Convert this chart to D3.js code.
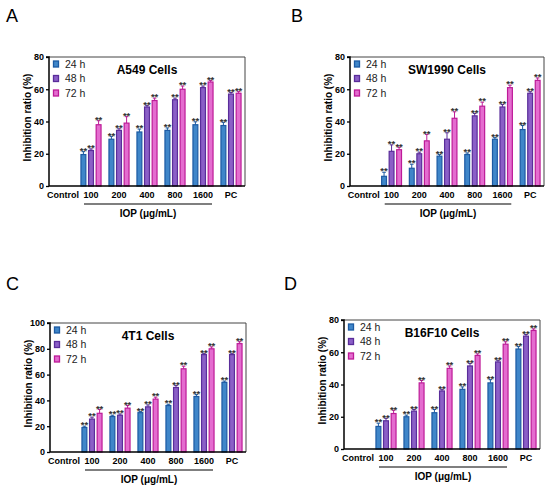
<!DOCTYPE html>
<html>
<head>
<meta charset="utf-8">
<script src="https://cdn.jsdelivr.net/npm/d3@7"></script>
<style>
  body { margin: 0; background: #fff; }
  svg text { font-family: "Liberation Sans", Arial, sans-serif; }
</style>
</head>
<body>
<div id="chart"></div>
<script>
// categories on the x axis and the three time points
const categories = ["Control", "100", "200", "400", "800", "1600", "PC"];
const series = ["24 h", "48 h", "72 h"];

// values per group (Control is empty), order: 100, 200, 400, 800, 1600, PC
const a549_24 = [19.5, 29, 33.5, 34.5, 38, 37.5];
const a549_48 = [22, 34.5, 49, 53.5, 61, 57];
const a549_72 = [38, 39, 53, 60, 64.5, 57.5];
const a549_err24 = [1.8, 1.8, 1.8, 1.5, 1.8, 2];
const a549_err48 = [1, 1, 1, 1, 1, 1];
const a549_err72 = [2.5, 4, 1.5, 2, 1, 1];

const sw1990_24 = [6, 11, 18.5, 19.5, 29, 35];
const sw1990_48 = [21.5, 20, 29, 43.5, 49, 57.5];
const sw1990_72 = [22.5, 28, 42, 49.5, 61, 65.5];
const sw1990_err24 = [2.5, 2.5, 1, 1, 1, 2.5];
const sw1990_err48 = [4, 1, 4, 1.5, 1.5, 1];
const sw1990_err72 = [1.5, 4, 4, 2.5, 1.5, 1.5];

const t41_24 = [19, 27.5, 30.5, 36, 43, 54];
const t41_48 = [25.5, 28.5, 35, 50, 75.5, 75.5];
const t41_72 = [30, 34, 41, 64.5, 80, 84];
const t41_err24 = [1, 1, 1, 1, 1.5, 1];
const t41_err48 = [1.5, 1, 1.5, 1.5, 1, 1];
const t41_err72 = [3, 2, 1.5, 2, 1.5, 1.5];

const b16_24 = [14, 20, 22.5, 37, 41, 62];
const b16_48 = [17.5, 23.5, 36, 51.5, 54, 70];
const b16_72 = [22, 41, 50, 58, 65, 73.5];
const b16_err24 = [2, 1, 2, 1.5, 2, 1.5];
const b16_err48 = [1.5, 1, 1, 1.5, 1, 1];
const b16_err72 = [2, 1.5, 1.5, 1, 1.5, 1];

const strokeCols = ["#1c5aa3", "#5a2d9a", "#bd1b98"];
const fillCols = ["#3f86c9", "#8b5fc7", "#e46ccf"];

const panels = [
  { letter: "A", title: "A549 Cells", vals: [a549_24, a549_48, a549_72], errs: [a549_err24, a549_err48, a549_err72],
    yMax: 80, x0: 49, x1: 245, y0: 57, y1: 186, lx: 6, ly: 22 },
  { letter: "B", title: "SW1990 Cells", vals: [sw1990_24, sw1990_48, sw1990_72], errs: [sw1990_err24, sw1990_err48, sw1990_err72],
    yMax: 80, x0: 350, x1: 544, y0: 57, y1: 186, lx: 291, ly: 22 },
  { letter: "C", title: "4T1 Cells", vals: [t41_24, t41_48, t41_72], errs: [t41_err24, t41_err48, t41_err72],
    yMax: 100, x0: 50, x1: 246, y0: 323, y1: 452, lx: 6, ly: 290 },
  { letter: "D", title: "B16F10 Cells", vals: [b16_24, b16_48, b16_72], errs: [b16_err24, b16_err48, b16_err72],
    yMax: 80, x0: 344, x1: 540, y0: 320, y1: 449, lx: 284, ly: 290 }
];

const svg = d3.select("#chart").append("svg")
  .attr("width", 550)
  .attr("height", 489);

panels.forEach((p) => {
  const g = svg.append("g");

  // panel letter
  g.append("text")
    .attr("x", p.lx).attr("y", p.ly)
    .attr("font-size", 18)
    .text(p.letter);

  const xScale = d3.scaleBand().domain(categories).range([p.x0, p.x1]).padding(0);
  const bw = xScale.bandwidth();
  const xSub = d3.scaleBand().domain(series).range([bw * 0.12, bw * 0.88]).paddingInner(0.2);
  const yScale = d3.scaleLinear().domain([0, p.yMax]).range([p.y1, p.y0]);

  // frame (top and right)
  g.append("path")
    .attr("d", `M${p.x0},${p.y0}H${p.x1}V${p.y1}`)
    .attr("fill", "none").attr("stroke", "#444").attr("stroke-width", 1);

  // bars, error bars and stars
  series.forEach((s, si) => {
    const rows = categories.slice(1).map((c, i) => ({ c: c, v: p.vals[si][i], e: p.errs[si][i] }));
    const cx = (d) => xScale(d.c) + xSub(s) + xSub.bandwidth() / 2;
    const bg = g.append("g");
    bg.selectAll("line.err").data(rows).enter().append("line")
      .attr("x1", cx).attr("x2", cx)
      .attr("y1", (d) => yScale(d.v))
      .attr("y2", (d) => yScale(d.v + d.e))
      .attr("stroke", strokeCols[si]).attr("stroke-width", 1);
    bg.selectAll("line.cap").data(rows).enter().append("line")
      .attr("x1", (d) => cx(d) - 1.8)
      .attr("x2", (d) => cx(d) + 1.8)
      .attr("y1", (d) => yScale(d.v + d.e))
      .attr("y2", (d) => yScale(d.v + d.e))
      .attr("stroke", strokeCols[si]).attr("stroke-width", 1);
    bg.selectAll("rect").data(rows).enter().append("rect")
      .attr("x", (d) => xScale(d.c) + xSub(s) + 0.6)
      .attr("y", (d) => yScale(d.v))
      .attr("width", xSub.bandwidth() - 1.2)
      .attr("height", (d) => yScale(0) - yScale(d.v))
      .attr("fill", fillCols[si])
      .attr("stroke", strokeCols[si]).attr("stroke-width", 1.2);
    bg.selectAll("text").data(rows).enter().append("text")
      .attr("x", cx)
      .attr("y", (d) => yScale(d.v + d.e) + 2.2)
      .attr("text-anchor", "middle")
      .attr("font-size", 9.5).attr("font-weight", "bold").attr("fill", "#333")
      .text("**");
  });

  // y axis
  const yAxis = d3.axisLeft(yScale).tickValues(d3.range(0, p.yMax + 1, 20)).tickSize(3).tickPadding(2);
  const ya = g.append("g").attr("transform", `translate(${p.x0},0)`).call(yAxis);
  ya.select(".domain").attr("stroke-width", 1.5).attr("d", `M-3,${p.y0}H0V${p.y1}`);
  ya.selectAll(".tick line").attr("stroke-width", 1.3);
  ya.selectAll("text").attr("font-size", 9).attr("font-weight", "bold").attr("fill", "#000")
    .style("font-family", "'Liberation Sans', Arial, sans-serif");

  // x axis (labels only, no ticks)
  const xAxis = d3.axisBottom(xScale).tickSize(0).tickPadding(6);
  const xa = g.append("g").attr("transform", `translate(0,${p.y1})`).call(xAxis);
  xa.select(".domain").attr("stroke-width", 1.5).attr("d", `M${p.x0},0H${p.x1}`);
  xa.selectAll("text").attr("font-size", 9).attr("font-weight", "bold").attr("fill", "#000")
    .style("font-family", "'Liberation Sans', Arial, sans-serif");

  // IOP underline and label
  const ux0 = xScale("100") + 7, ux1 = xScale("1600") + bw - 5;
  g.append("line")
    .attr("x1", ux0).attr("x2", ux1)
    .attr("y1", p.y1 + 18).attr("y2", p.y1 + 18)
    .attr("stroke", "#000").attr("stroke-width", 1.2);
  g.append("text")
    .attr("x", (ux0 + ux1) / 2).attr("y", p.y1 + 31)
    .attr("text-anchor", "middle")
    .attr("font-size", 10).attr("font-weight", "bold")
    .text("IOP (μg/mL)");

  // y title
  g.append("text")
    .attr("transform", `translate(${p.x0 - 18},${(p.y0 + p.y1) / 2 - 4}) rotate(-90)`)
    .attr("text-anchor", "middle")
    .attr("font-size", 10).attr("font-weight", "bold")
    .text("Inhibition ratio (%)");

  // chart title
  g.append("text")
    .attr("x", (p.x0 + p.x1) / 2).attr("y", p.y0 + 17)
    .attr("text-anchor", "middle")
    .attr("font-size", 12).attr("font-weight", "bold")
    .text(p.title);

  // legend
  series.forEach((s, si) => {
    const ly = p.y0 + 7 + si * 14.5;
    g.append("rect")
      .attr("x", p.x0 + 4.5).attr("y", ly - 3)
      .attr("width", 5).attr("height", 6)
      .attr("fill", fillCols[si]).attr("stroke", strokeCols[si]).attr("stroke-width", 1.3);
    g.append("text")
      .attr("x", p.x0 + 16).attr("y", ly + 3.8)
      .attr("font-size", 10.5).attr("fill", "#222")
      .text(s);
  });
});
</script>
</body>
</html>
